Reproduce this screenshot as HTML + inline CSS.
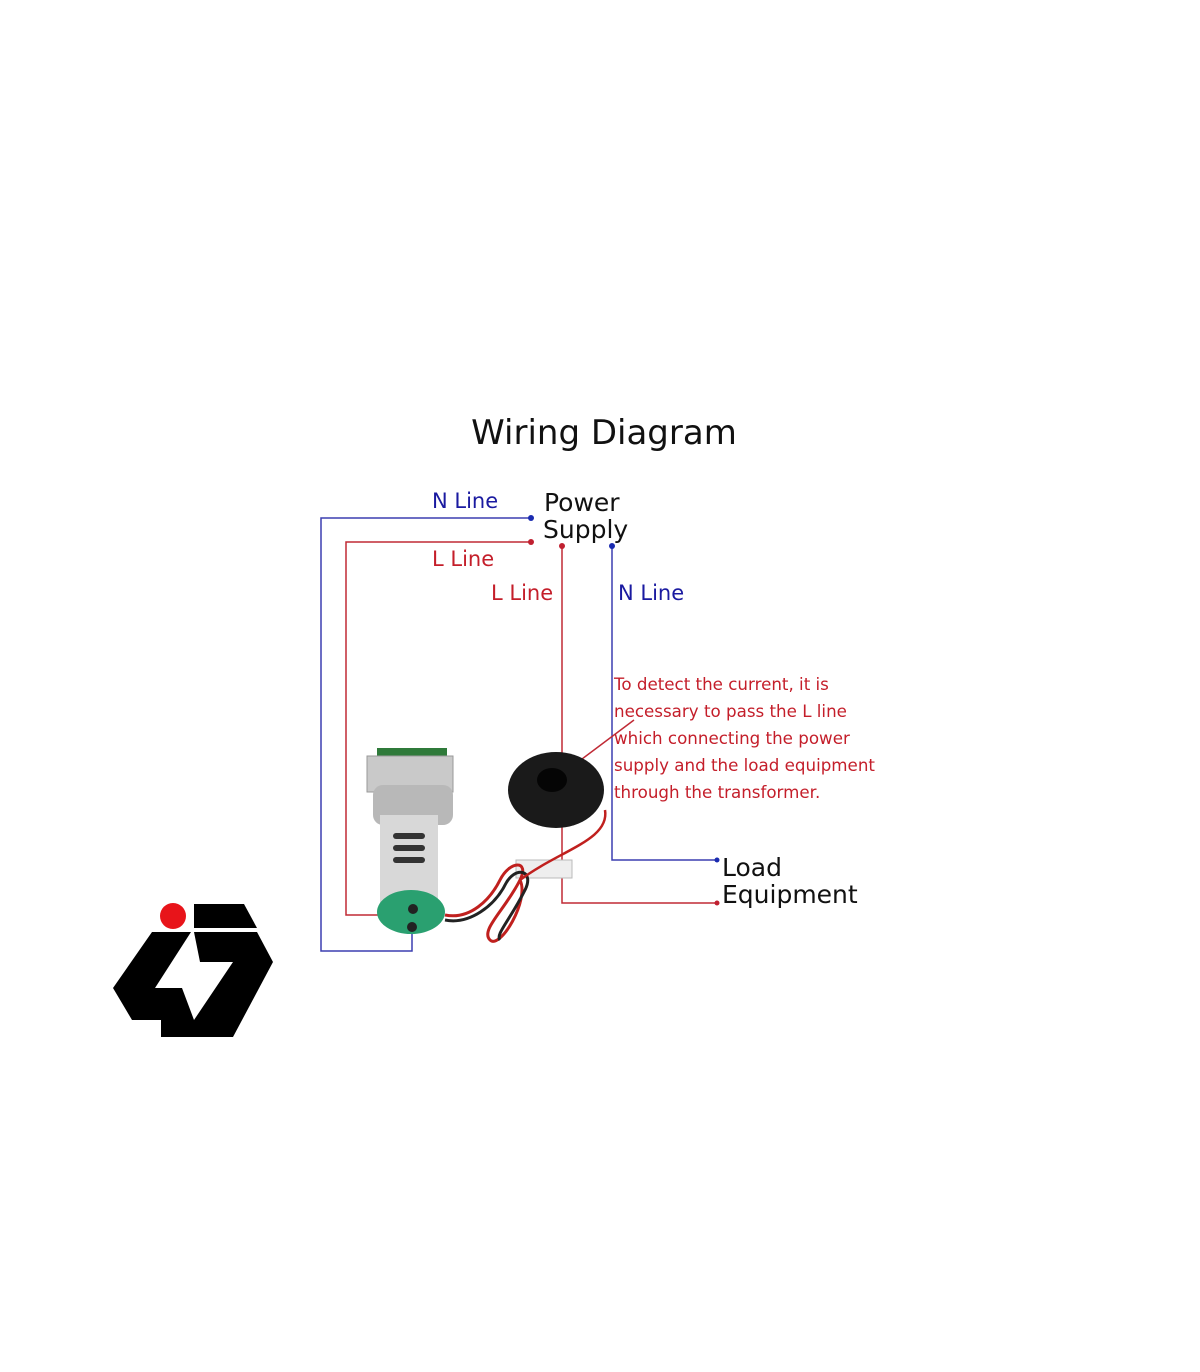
<!DOCTYPE html>
<html><head><meta charset="utf-8"><style>
html,body{margin:0;padding:0;background:#fff;}
body{width:1200px;height:1372px;position:relative;overflow:hidden;font-family:"DejaVu Sans","Liberation Sans",sans-serif;}
</style></head><body>
<svg width="1200" height="1372" viewBox="0 0 1200 1372" xmlns="http://www.w3.org/2000/svg" style="position:absolute;left:0;top:0">
<text x="604" y="444" font-size="34" text-anchor="middle" fill="#111" font-family="DejaVu Sans, sans-serif">Wiring Diagram</text>
<g fill="none" stroke-width="1.5">
<polyline points="531,518 321,518 321,951 412,951 412,928" stroke="#3b3fb0"/>
<polyline points="531,542 346,542 346,915 410,915 410,900" stroke="#c02a35"/>
<polyline points="562,546 562,903 717,903" stroke="#c02a35"/>
<polyline points="612,546 612,860 717,860" stroke="#3b3fb0"/>
<line x1="634" y1="720" x2="570" y2="768" stroke="#c02a35"/>
</g>
<polygon points="566,772 570,760 577,767" fill="#c02a35"/>
<g>
<circle cx="531" cy="518" r="3" fill="#1a2bb0"/>
<circle cx="531" cy="542" r="3" fill="#c02030"/>
<circle cx="562" cy="546" r="3" fill="#c02030"/>
<circle cx="612" cy="546" r="3" fill="#1a2bb0"/>
<circle cx="717" cy="860" r="2.5" fill="#1a2bb0"/>
<circle cx="717" cy="903" r="2.5" fill="#c02030"/>
</g>
<g font-family="DejaVu Sans, sans-serif" font-size="21">
<text x="432" y="508" fill="#1a1aa0">N Line</text>
<text x="432" y="566" fill="#c41e2a">L Line</text>
<text x="491" y="600" fill="#c41e2a">L Line</text>
<text x="618" y="600" fill="#1a1aa0">N Line</text>
</g>
<g font-family="DejaVu Sans, sans-serif" font-size="25" fill="#111">
<text x="544" y="511">Power</text>
<text x="543" y="538">Supply</text>
<text x="722" y="876">Load</text>
<text x="722" y="903">Equipment</text>
</g>
<g font-family="DejaVu Sans, sans-serif" font-size="16.7" fill="#c41e2a">
<text x="614" y="690">To detect the current, it is</text>
<text x="614" y="717">necessary to pass the L line</text>
<text x="614" y="744">which connecting the power</text>
<text x="614" y="771">supply and the load equipment</text>
<text x="614" y="798">through the transformer.</text>
</g>
<!-- meter -->
<rect x="377" y="748" width="70" height="10" fill="#2f7a3a"/>
<rect x="367" y="756" width="86" height="36" fill="#c9c9c9" stroke="#999"/>
<rect x="373" y="785" width="80" height="40" rx="10" fill="#b8b8b8"/>
<rect x="380" y="815" width="58" height="92" fill="#d8d8d8"/>
<rect x="393" y="833" width="32" height="6" rx="3" fill="#333"/>
<rect x="393" y="845" width="32" height="6" rx="3" fill="#333"/>
<rect x="393" y="857" width="32" height="6" rx="3" fill="#333"/>
<ellipse cx="411" cy="912" rx="34" ry="22" fill="#2aa070"/>
<circle cx="413" cy="909" r="5" fill="#222"/>
<circle cx="412" cy="927" r="5" fill="#222"/>
<!-- CT -->
<ellipse cx="556" cy="790" rx="48" ry="38" fill="#1a1a1a"/>
<ellipse cx="552" cy="780" rx="15" ry="12" fill="#050505"/>
<rect x="516" y="860" width="56" height="18" fill="#eee" stroke="#bbb"/>
<path d="M445,915 C470,920 490,900 500,880 C510,860 530,860 520,880 C505,910 480,930 490,940 C500,950 530,900 520,880" fill="none" stroke="#c0201e" stroke-width="3"/>
<path d="M445,920 C470,925 495,905 505,885 C515,865 535,870 525,890 C510,920 495,935 500,940" fill="none" stroke="#222" stroke-width="3"/>
<path d="M520,880 C560,850 610,840 605,810" fill="none" stroke="#c0201e" stroke-width="2.5"/>
<!-- logo -->
<circle cx="173" cy="916" r="13" fill="#e8141a"/>
<polygon points="194,904 244,904 257,928 194,928" fill="#000"/>
<polygon points="152,932 257,932 273,962 233,1037 161,1037 161,1020 132,1020 113,988" fill="#000"/>
<polygon points="191,932 194,932 200,962 233,962 194,1020 182,988 155,988" fill="#fff"/>
</svg>
</body></html>
